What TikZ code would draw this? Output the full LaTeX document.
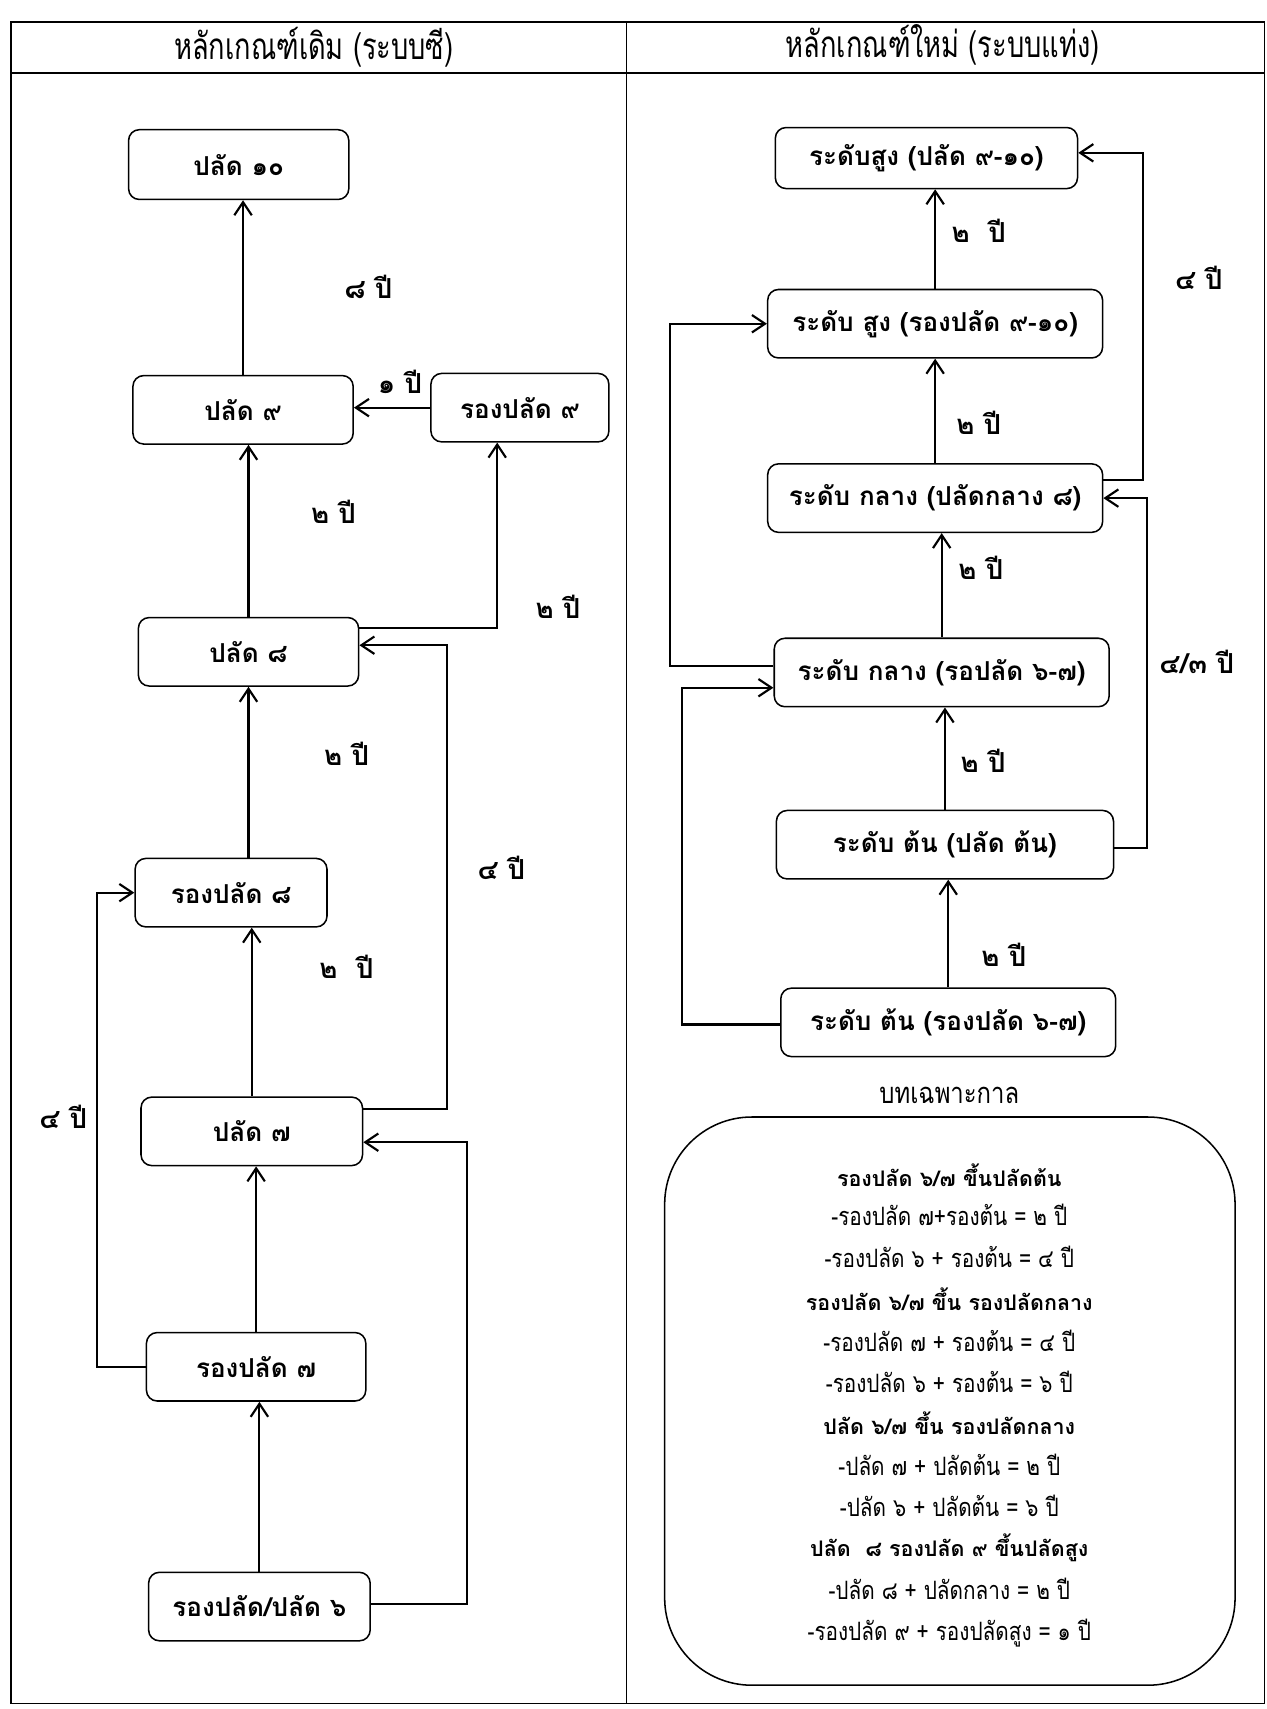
\documentclass[tikz,border=0pt]{standalone}
\usepackage{fontspec}
\usetikzlibrary{arrows.meta}

\newfontfamily\thaifont[Script=Thai]{Loma}
\newfontfamily\thainarrow[Script=Thai,FakeStretch=0.82]{Loma}
\newfontfamily\thaihead[Script=Thai,FakeStretch=0.74]{Loma}

\tikzset{
  box/.style={draw, line width=1pt, rounded corners=7pt, minimum height=1.57cm, inner sep=2pt,
    font=\thaifont\bfseries\fontsize{17}{20}\selectfont},
  yrs/.style={font=\thaifont\bfseries\fontsize{18}{21}\selectfont},
  head/.style={font=\thaihead\fontsize{24}{28}\selectfont},
  hd/.style={font=\thaifont\bfseries\fontsize{14}{17}\selectfont},
  ln/.style={font=\thainarrow\fontsize{16.5}{19}\selectfont},
  arr/.style={line width=1.4pt, -{Straight Barb[length=3mm,width=4mm]}},
}

\begin{document}
\begin{tikzpicture}[x=0.025cm, y=-0.025cm]
        \useasboundingbox (0,0) rectangle (1162,1568);

        % Draw the table
        \draw[line width=1pt] (10,20) rectangle (1160,1563);
        \draw[line width=1pt] (10,67) -- (1160,67);
        \draw[line width=1pt] (575,20) -- (575,1563);
        \node[head] (hl) at (288,43) {หลักเกณฑ์เดิม (ระบบซี)};
        \node[head] (hr) at (865,41) {หลักเกณฑ์ใหม่ (ระบบแท่ง)};

        % Old scheme (left)
        \node[box, minimum width=5.05cm, minimum height=1.6cm] (p10) at (219,151) {ปลัด ๑๐};
        \node[box, minimum width=5.05cm] (p9) at (223,376) {ปลัด ๙};
        \node[box, minimum width=4.08cm] (rp9) at (477,374) {รองปลัด ๙};
        \node[box, minimum width=5.05cm] (p8) at (228,598) {ปลัด ๘};
        \node[box, minimum width=4.4cm] (rp8) at (212,819) {รองปลัด ๘};
        \node[box, minimum width=5.08cm] (p7) at (231,1038) {ปลัด ๗};
        \node[box, minimum width=5.03cm] (rp7) at (235,1254) {รองปลัด ๗};
        \node[box, minimum width=5.08cm] (p6) at (238,1474) {รองปลัด/ปลัด ๖};

        % Arrows of the old scheme
        \draw[arr] (p9.north) -- (p9.north |- p10.south);
        \draw[arr] (rp9.west) -- (rp9.west -| p9.east);
        \draw[arr] (p8.north) -- (p8.north |- p9.south);
        \draw[arr] ([yshift=0.55cm]p8.east) -| ([xshift=-0.52cm]rp9.south);
        \draw[arr] (rp8.north -| p8.south) -- (p8.south);
        \draw[arr] (p7.north) -- (p7.north |- rp8.south);
        \draw[arr] (rp7.north) -- (rp7.north |- p7.south);
        \draw[arr] (p6.north) -- (p6.north |- rp7.south);
        \draw[arr] ([yshift=0.52cm]p7.east) -- ++(77,0) |- ([yshift=0.15cm]p8.east);
        \draw[arr] (rp7.west) -- ++(-45,0) |- (rp8.west);
        \draw[arr] ([yshift=0.05cm]p6.east) -- ++(88,0) |- ([yshift=-0.25cm]p7.east);

        % Years (left)
        \node[yrs] (y1) at (338,263) {๘ ปี};
        \node[yrs] (y2) at (367,350) {๑ ปี};
        \node[yrs] (y3) at (306,470) {๒ ปี};
        \node[yrs] (y4) at (512,557) {๒ ปี};
        \node[yrs] (y5) at (318,692) {๒ ปี};
        \node[yrs] (y6) at (460,796) {๔ ปี};
        \node[yrs] (y7) at (318,887) {๒\ \ ปี};
        \node[yrs] (y8) at (58,1025) {๔ ปี};

        % New scheme (right)
        \node[box, minimum width=6.93cm, minimum height=1.4cm] (s1) at (850,145) {ระดับสูง (ปลัด ๙-๑๐)};
        \node[box, minimum width=7.68cm] (s2) at (858,297) {ระดับ สูง (รองปลัด ๙-๑๐)};
        \node[box, minimum width=7.68cm] (m1) at (858,457) {ระดับ กลาง (ปลัดกลาง ๘)};
        \node[box, minimum width=7.68cm] (m2) at (864,617) {ระดับ กลาง (รอปลัด ๖-๗)};
        \node[box, minimum width=7.73cm] (e1) at (867,775) {ระดับ ต้น (ปลัด ต้น)};
        \node[box, minimum width=7.68cm] (e2) at (870,938) {ระดับ ต้น (รองปลัด ๖-๗)};

        % Arrows of the new scheme
        \draw[arr] (s2.north) -- (s2.north |- s1.south);
        \draw[arr] (m1.north) -- (m1.north |- s2.south);
        \draw[arr] (m2.north) -- (m2.north |- m1.south);
        \draw[arr] (e1.north) -- (e1.north |- m2.south);
        \draw[arr] (e2.north) -- (e2.north |- e1.south);
        \draw[arr] ([yshift=0.42cm]m1.east) -- ++(36,0) |- ([yshift=0.12cm]s1.east);
        \draw[arr] ([yshift=-0.07cm]e1.east) -- ++(30,0) |- (m1.east);
        \draw[arr] ([yshift=0.15cm]m2.west) -- ++(-95,0) |- (s2.west);
        \draw[arr] ([yshift=-0.05cm]e2.west) -- ++(-90,0) |- ([yshift=-0.35cm]m2.west);

        % Years (right)
        \node[yrs] (z1) at (898,212) {๒\ \ ปี};
        \node[yrs] (z2) at (898,388) {๒ ปี};
        \node[yrs] (z3) at (900,521) {๒ ปี};
        \node[yrs] (z4) at (902,698) {๒ ปี};
        \node[yrs] (z5) at (921,876) {๒ ปี};
        \node[yrs] (z6) at (1100,255) {๔ ปี};
        \node[yrs] (z7) at (1098,607) {๔/๓ ปี};

        % Transitional provisions
        \node[ln, font=\thainarrow\fontsize{19}{22}\selectfont] (bt) at (871,1005) {บทเฉพาะกาล};
        \node[draw, line width=1pt, rounded corners=2cm, minimum width=13.08cm, minimum height=13.03cm] (pv) at (871.5,1285.5) {};
        \foreach \y/\s/\t [count=\i] in {
            1078/hd/{รองปลัด ๖/๗ ขึ้นปลัดต้น},
            1115/ln/{-รองปลัด ๗+รองต้น = ๒ ปี},
            1153/ln/{-รองปลัด ๖ + รองต้น = ๔ ปี},
            1192/hd/{รองปลัด ๖/๗ ขึ้น รองปลัดกลาง},
            1230/ln/{-รองปลัด ๗ + รองต้น = ๔ ปี},
            1268/ln/{-รองปลัด ๖ + รองต้น = ๖ ปี},
            1306/hd/{ปลัด ๖/๗ ขึ้น รองปลัดกลาง},
            1344/ln/{-ปลัด ๗ + ปลัดต้น = ๒ ปี},
            1382/ln/{-ปลัด ๖ + ปลัดต้น = ๖ ปี},
            1420/hd/{ปลัด\ \ ๘ รองปลัด ๙ ขึ้นปลัดสูง},
            1458/ln/{-ปลัด ๘ + ปลัดกลาง = ๒ ปี},
            1498/ln/{-รองปลัด ๙ + รองปลัดสูง = ๑ ปี}} {
            \node[\s] (pv-\i) at (871,\y) {\t};
        }
\end{tikzpicture}
\end{document}
